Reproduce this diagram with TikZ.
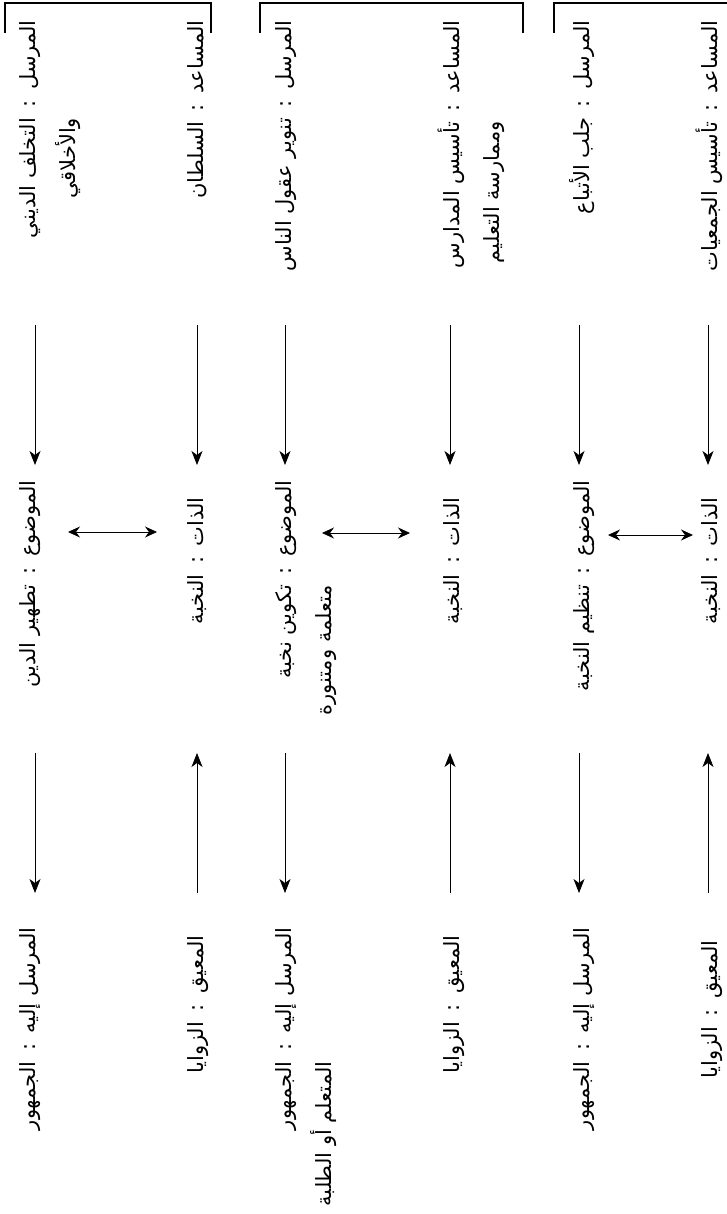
\documentclass[tikz,border=0pt]{standalone}
\usepackage{fontspec}
\newfontfamily\arabicfont[Script=Arabic]{DejaVu Sans}
\TeXXeTstate=1
\usetikzlibrary{arrows.meta}
% role | value line 1 | value line 2 (hanging under the value)
\newcommand{\actcell}[6][]{
  \node[cell,#1] (#2) at (#3) {\begin{tabular}[t]{@{}r@{\hspace{.5em}}r@{}}
      #5 & #4\\
      #6 &
    \end{tabular}};
}

\begin{document}
\begin{tikzpicture}[x=0.5pt,y=-0.5pt,
    cell/.style={rotate=90,anchor=base east,inner sep=0pt,
      font=\arabicfont\fontsize{10.5}{20}\selectfont},
    arr/.style={-{Stealth[length=7pt,width=5.5pt,inset=2pt]}},
    dbl/.style={{Stealth[length=6pt,width=5.5pt,inset=2pt]}-{Stealth[length=6pt,width=5.5pt,inset=2pt]}},
    bracket/.style={line width=1pt}]
    \useasboundingbox (0,0) rectangle (727,1214);
    % first schema
    \actcell{s1}{35,20}{\beginR المرسل\hspace{.5em}:\endR}{\beginR التخلف الديني\endR}{\beginR والأخلاقي\endR}
    \actcell{h1}{203,20}{\beginR المساعد\hspace{.5em}:\endR}{\beginR السلطان\endR}{}
    \actcell{o1}{35,480}{\beginR الموضوع\hspace{.5em}:\endR}{\beginR تطهير الدين\endR}{}
    \actcell{x1}{203,497}{\beginR الذات\hspace{.5em}:\endR}{\beginR النخبة\endR}{}
    \actcell{r1}{35,927}{\beginR المرسل إليه\hspace{.5em}:\endR}{\beginR الجمهور\endR}{}
    \actcell{a1}{203,935}{\beginR المعيق\hspace{.5em}:\endR}{\beginR الزوايا\endR}{}
    % second schema
    \actcell{s2}{291,20}{\beginR المرسل\hspace{.5em}:\endR}{\beginR تنوير عقول الناس\endR}{}
    \actcell{h2}{459,20}{\beginR المساعد\hspace{.5em}:\endR}{\beginR تأسيس المدارس\endR}{\beginR وممارسة التعليم\endR}
    \actcell{o2}{291,480}{\beginR الموضوع\hspace{.5em}:\endR}{\beginR تكوين نخبة\endR}{\beginR متعلمة ومتنورة\endR}
    \actcell{x2}{459,497}{\beginR الذات\hspace{.5em}:\endR}{\beginR النخبة\endR}{}
    \actcell{r2}{291,927}{\beginR المرسل إليه\hspace{.5em}:\endR}{\beginR الجمهور\endR}{\beginR المتعلم أو الطلبة\endR}
    \actcell{a2}{459,935}{\beginR المعيق\hspace{.5em}:\endR}{\beginR الزوايا\endR}{}
    % third schema
    \actcell{s3}{589,20}{\beginR المرسل\hspace{.5em}:\endR}{\beginR جلب الأتباع\endR}{}
    \actcell{h3}{717,20}{\beginR المساعد\hspace{.5em}:\endR}{\beginR تأسيس الجمعيات\endR}{}
    \actcell{o3}{589,480}{\beginR الموضوع\hspace{.5em}:\endR}{\beginR تنظيم النخبة\endR}{}
    \actcell{x3}{717,497}{\beginR الذات\hspace{.5em}:\endR}{\beginR النخبة\endR}{}
    \actcell{r3}{589,927}{\beginR المرسل إليه\hspace{.5em}:\endR}{\beginR الجمهور\endR}{}
    \actcell{a3}{717,940}{\beginR المعيق\hspace{.5em}:\endR}{\beginR الزوايا\endR}{}
    % brackets
    \draw[bracket] (5,33) |- (211,3) -- (211,33);
    \draw[bracket] (260,33) |- (523,3) -- (523,33);
    \draw[bracket] (554,33) |- (727,3);
    % arrow ends
    \foreach \x [count=\i] in {35,197,285,450,579,708}{
      \coordinate (t\i) at (\x,325);
      \coordinate (m\i) at (\x,465);
      \coordinate (n\i) at (\x,753);
      \coordinate (b\i) at (\x,893);
    }
    \foreach \i in {1,...,6}
      \draw[arr] (t\i) -- (m\i);
    \foreach \i in {1,3,5}
      \draw[arr] (n\i) -- (b\i);
    \foreach \i in {2,4,6}
      \draw[arr] (b\i) -- (n\i);
    \coordinate (d1) at (68,532);
    \coordinate (e1) at (157,532);
    \coordinate (d2) at (322,533);
    \coordinate (e2) at (410,533);
    \coordinate (d3) at (608,535);
    \coordinate (e3) at (693,535);
    \foreach \i in {1,2,3}
      \draw[dbl] (d\i) -- (e\i);
\end{tikzpicture}
\end{document}
